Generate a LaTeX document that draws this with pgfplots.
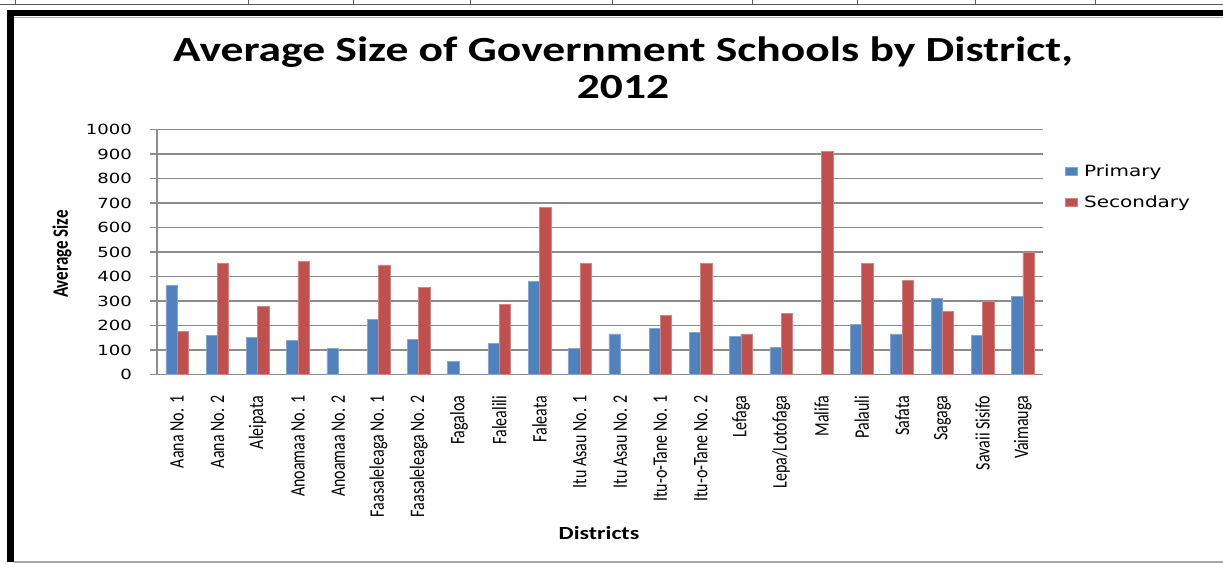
\documentclass[border=0pt]{standalone}
\usepackage{pgfplots}
\pgfplotsset{compat=1.18}
\usepackage{pgfplotstable}
\usepackage{fontspec}
\setmainfont{Carlito}
\newfontfamily\dv{DejaVu Sans}
\newcommand\sx[1]{\scalebox{1.29}[1]{#1}}
\newcommand\sy[1]{\scalebox{1}[1.29]{#1}}
\definecolor{pblue}{HTML}{4F81BD}
\definecolor{sred}{HTML}{C0504D}
\definecolor{gridgray}{HTML}{8C8C8C}
\pgfplotstableread{
x prim sec
0 364 177
1 161 452
2 150 278
3 139 463
4 106 nan
5 224 447
6 144 357
7 54 nan
8 128 287
9 379 681
10 106 452
11 166 nan
12 187 240
13 172 452
14 155 166
15 112 251
16 nan 910
17 203 452
18 166 383
19 309 256
20 161 297
21 320 500
}\datatable
\begin{document}
\begin{tikzpicture}
\begin{scope}[x=1pt,y=1pt]
\path[use as bounding box, fill=white] (0,0) rectangle (1223,-564);
% table fragment at top
\draw[gray!70!black, line width=1pt] (0,-5) -- (1223,-5);
\foreach \xx in {15,248,353,470,612,752,857,975,1095} \draw[gray!70!black, line width=1pt] (\xx,0) -- (\xx,-5);
% frame
\fill[black] (7,-10) rectangle (1223,-16.5);
\fill[black] (7,-10) rectangle (14,-562);
\draw[gray!60, line width=1.2pt] (14,-17.5) -- (1223,-17.5);
\draw[gray!70, line width=1.2pt] (14,-562) -- (1223,-562);
% title
\node[anchor=base, font=\bfseries\fontsize{35.3}{40}\selectfont, inner sep=0pt] at (623,-62) {\sx{Average Size of Government Schools by District,}};
\node[anchor=base, font=\bfseries\fontsize{35.3}{40}\selectfont, inner sep=0pt] at (623,-99) {\sx{2012}};
% axis titles
\node[rotate=90, font=\bfseries\fontsize{17}{18}\selectfont, inner sep=0pt] at (62,-254) {\sy{Average Size}};
\node[font=\bfseries\fontsize{18.5}{20}\selectfont, inner sep=0pt] at (599,-533) {\sx{Districts}};
\end{scope}
\begin{axis}[
  at={(157pt,-374.5pt)}, anchor=south west,
  width=886pt, height=245pt, scale only axis,
  ybar=0pt, bar width=11.3pt,
  xmin=-0.5, xmax=21.5, ymin=0, ymax=1000,
  ytick={0,100,...,1000},
  xtick={0,...,21},
  xticklabels={\sy{Aana No. 1},\sy{Aana No. 2},\sy{Aleipata},\sy{Anoamaa No. 1},\sy{Anoamaa No. 2},\sy{Faasaleleaga No. 1},\sy{Faasaleleaga No. 2},\sy{Fagaloa},\sy{Falealili},\sy{Faleata},\sy{Itu Asau No. 1},\sy{Itu Asau No. 2},\sy{Itu-o-Tane No. 1},\sy{Itu-o-Tane No. 2},\sy{Lefaga},\sy{Lepa/Lotofaga},\sy{Malifa},\sy{Palauli},\sy{Safata},\sy{Sagaga},\sy{Savaii Sisifo},\sy{Vaimauga}},
  axis lines*=left,
  ymajorgrids, grid style={gridgray, line width=1.6pt},
  axis line style={gridgray, line width=1.6pt},
  ytick style={gridgray, line width=1.4pt},
  tick align=outside, major tick length=7pt,
  xtick style={draw=none},
  yticklabel style={font=\dv\fontsize{14}{15}\selectfont, inner sep=0pt, anchor=east},
  yticklabel={\sx{\pgfmathprintnumber[assume math mode=true,1000 sep={}]{\tick}}},
  yticklabel shift=18pt,
  xticklabel style={rotate=90, anchor=east, inner sep=0pt, font=\fontsize{16}{17}\selectfont},
  xticklabel shift=14pt,
  legend style={at={(1.021,0.872)}, anchor=north west, draw=none, fill=none,
    font=\dv\fontsize{15.5}{16}\selectfont, row sep=13pt, legend cell align=left},
  legend image code/.code={\fill[#1] (0pt,-4pt) rectangle (12.5pt,4pt); \path[draw=none,fill=none] (0pt,0pt) -- (17pt,0pt);},
]
\addplot[fill=pblue, draw=pblue!70!white, line width=0.6pt] table[x=x,y=prim]{\datatable};
\addlegendentry{\sx{Primary}}
\addplot[fill=sred, draw=sred!70!white, line width=0.6pt] table[x=x,y=sec]{\datatable};
\addlegendentry{\sx{Secondary}}
\end{axis}
\end{tikzpicture}
\end{document}
